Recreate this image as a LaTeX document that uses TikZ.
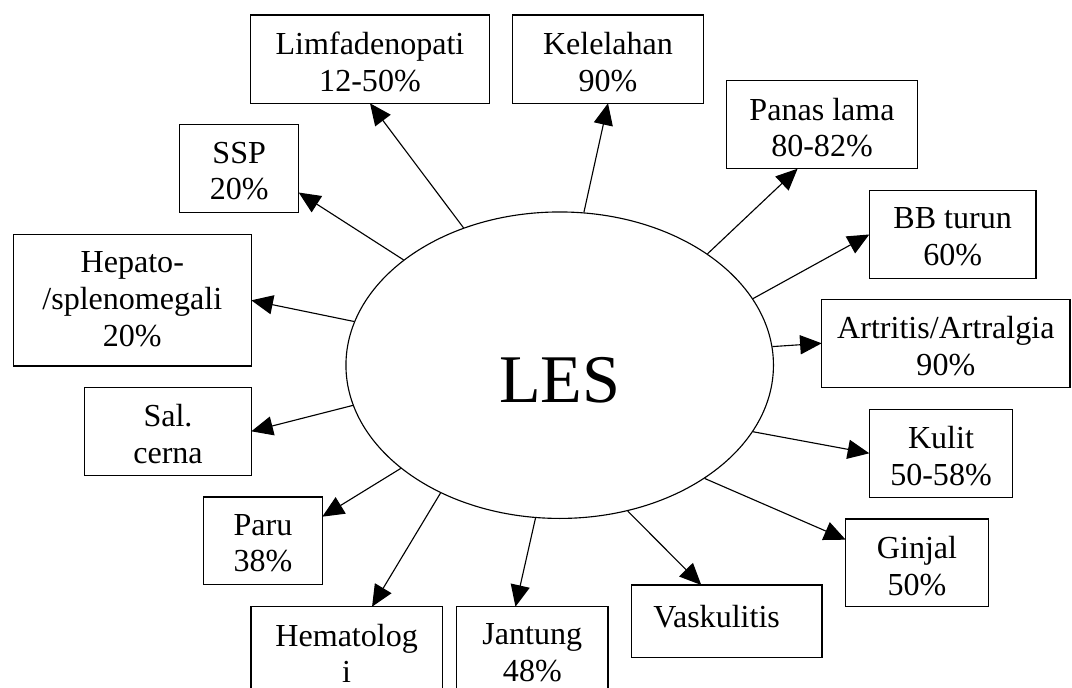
\documentclass[tikz,border=0pt]{standalone}
\usepackage{fontspec}
\setmainfont{Liberation Serif}
\usepackage{tikz}
\usetikzlibrary{shapes.geometric, arrows.meta}
\newcommand{\boxfont}{\fontsize{22.8}{26.1}\selectfont}
\newcommand{\lesfont}{\fontsize{48.5}{58}\selectfont}
\tikzset{
x=0.025cm, y=-0.025cm, % one unit is one pixel, y runs downwards
>={Triangle[length=0.54cm, width=0.48cm]}, % filled arrow heads
box/.style 2 args={draw, line width=0.8pt, inner sep=0pt, outer sep=0pt, anchor=north west, minimum width=#1*0.025cm, minimum height=#2*0.025cm}, % the boxes, width and height in pixels
lbl/.style={anchor=north, align=center, inner sep=0pt, yshift=-0.42cm, font=\boxfont, execute at begin node=\strut}, % text sits at the top of its box
}
\begin{document}
\begin{tikzpicture}
\clip (0,0) rectangle (1072,688);
\node[draw, ellipse, line width=0.8pt, inner sep=0pt, minimum width=10.685cm, minimum height=7.66cm, font=\lesfont, text height=1.88cm] (les) at (559.7,365.2) {LES};

\node[box={238.6}{88.3}, label={[lbl]north:{Limfadenopati\\12-50\%}}] (limf) at (250.7,15) {};
\node[box={190.6}{88.3}, label={[lbl]north:{Kelelahan\\90\%}}] (kel) at (512.7,15) {};
\node[box={190.6}{88}, label={[lbl]north:{Panas lama\\80-82\%}}] (panas) at (726.7,80.7) {};
\node[box={166.7}{87.6}, label={[lbl]north:{BB turun\\60\%}}] (bb) at (869.3,190.7) {};
\node[box={248.3}{88}, label={[lbl]north:{Artritis/Artralgia\\90\%}}] (artr) at (821.7,299.3) {};
\node[box={143.4}{88}, label={[lbl]north:{Kulit\\50-58\%}}] (kulit) at (869.3,409.3) {};
\node[box={142.6}{87.7}, label={[lbl]north:{Ginjal\\50\%}}] (ginjal) at (845.7,519) {};
\node[box={190.7}{72.5}, label={[lbl, xshift=-0.25cm]north:{Vaskulitis}}] (vask) at (631.3,585) {};
\node[box={151.3}{88}, label={[lbl]north:{Jantung\\48\%}}] (jant) at (456.7,606.7) {};
\node[box={191.3}{88}, label={[lbl]north:{Hematolog\\i}}] (hemat) at (251,606.7) {};
\node[box={118.6}{87.3}, label={[lbl]north:{Paru\\38\%}}] (paru) at (203.7,497) {};
\node[box={166.6}{88}, label={[lbl]north:{Sal.\\cerna}}] (salc) at (84.7,387.3) {};
\node[box={238}{131.3}, label={[lbl]north:{Hepato-\\/splenomegali\\20\%}}] (hepato) at (13.3,234.7) {};
\node[box={119}{87.6}, label={[lbl]north:{SSP\\20\%}}] (ssp) at (179.7,124.7) {};

\path[->, line width=0.8pt]
(les.125.8) edge (limf.south)
(les.81) edge (kel.south)
(les.37.5) edge (panas.241)
(les.19) edge (bb.west)
(les.5.7) edge (artr.west)
(les.341) edge (kulit.west)
(les.322.4) edge (ginjal.162)
(les.295.1) edge (vask.125)
(les.261.5) edge (jant.111.5)
(les.227.9) edge (hemat.60.4)
(les.213.7) edge (paru.22)
(les.191.7) edge (salc.east)
(les.168.4) edge (hepato.east)
(les.146.6) edge (ssp.338);
\end{tikzpicture}
\end{document}
